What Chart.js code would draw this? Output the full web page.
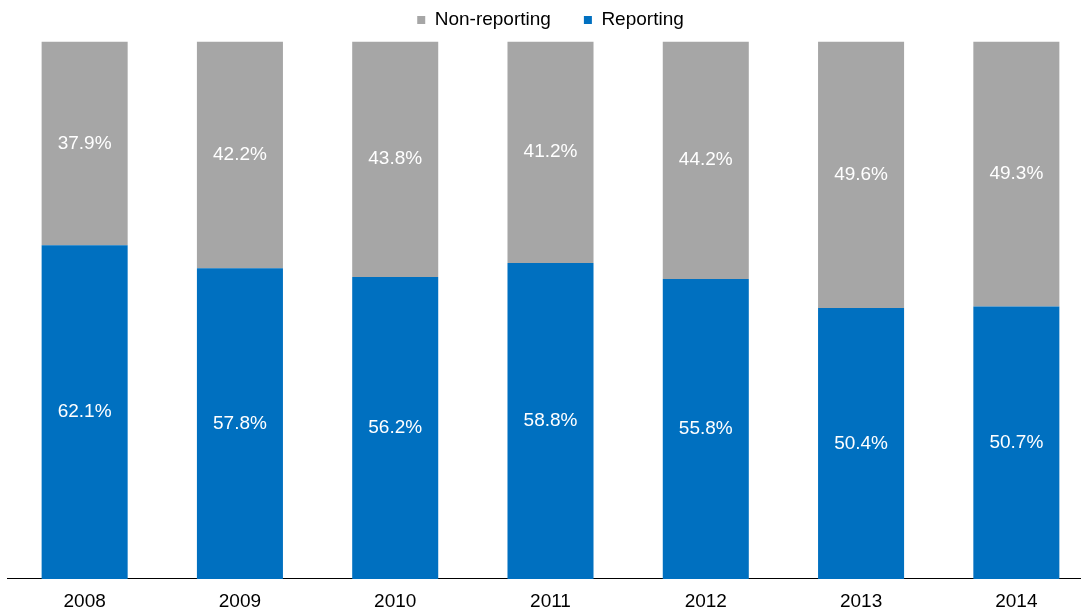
<!DOCTYPE html>
<html>
<head>
<meta charset="utf-8">
<script src="https://cdn.jsdelivr.net/npm/chart.js@4"></script>
<style>
  html, body { margin: 0; padding: 0; background: #fff; overflow: hidden; }
  #wrap { position: relative; width: 1094px; height: 609px; }
</style>
</head>
<body>
<div id="wrap"><canvas id="myChart"></canvas></div>
<script>
// data
const years = ['2008', '2009', '2010', '2011', '2012', '2013', '2014'];
const reporting = [62.1, 57.8, 56.2, 58.8, 55.8, 50.4, 50.7];
const nonReporting = [37.9, 42.2, 43.8, 41.2, 44.2, 49.6, 49.3];

const FONT = "'Liberation Sans', Arial, sans-serif";

// white value text in the middle of each segment
const barLabels = {
    id: 'barLabels',
    afterDatasetsDraw(chart) {
        const ctx = chart.ctx;
        ctx.save();
        ctx.fillStyle = '#fff';
        ctx.font = '19px ' + FONT;
        ctx.textAlign = 'center';
        ctx.textBaseline = 'middle';
        chart.data.datasets.forEach((ds, i) => {
            chart.getDatasetMeta(i).data.forEach((bar, j) => {
                const mid = (bar.y + bar.base) / 2;
                ctx.fillText(ds.data[j].toFixed(1) + '%', bar.x, mid);
            });
        });
        ctx.restore();
    }
};

const data = {
    labels: years,
    datasets: [{
        label: 'Reporting',
        data: reporting,
        backgroundColor: '#0070C0',
        barPercentage: 1,
        categoryPercentage: 0.554
    }, {
        label: 'Non-reporting',
        data: nonReporting,
        backgroundColor: '#A6A6A6',
        barPercentage: 1,
        categoryPercentage: 0.554
    }]
};

const config = {
    type: 'bar',
    data: data,
    plugins: [barLabels],
    options: {
        responsive: true,
        maintainAspectRatio: false,
        animation: false,
        layout: {
            // legend padding is wide for item spacing, pull it back up
            padding: { left: 7, right: 0, top: -22.5, bottom: -15 }
        },
        plugins: {
            legend: {
                reverse: true,
                labels: {
                    boxWidth: 8,
                    boxHeight: 8,
                    padding: 33,
                    color: '#000',
                    font: { family: FONT, size: 19 }
                }
            },
            tooltip: { enabled: false }
        },
        scales: {
            x: {
                stacked: true,
                grid: { display: false, drawTicks: false },
                border: { display: true, color: '#000', width: 1 },
                ticks: {
                    color: '#000',
                    padding: 14,
                    font: { family: FONT, size: 19, lineHeight: 0.9 }
                }
            },
            // empty axis on top, only a small gap under the legend
            gap: {
                type: 'category',
                position: 'top',
                grid: { display: false, drawTicks: false },
                border: { display: false },
                ticks: { display: false },
                afterFit: (scale) => { scale.height = 2; }
            },
            y: {
                stacked: true,
                display: false,
                min: 0,
                max: 100
            }
        }
    }
};

const myChart = new Chart(document.getElementById('myChart'), config);
</script>
</body>
</html>
